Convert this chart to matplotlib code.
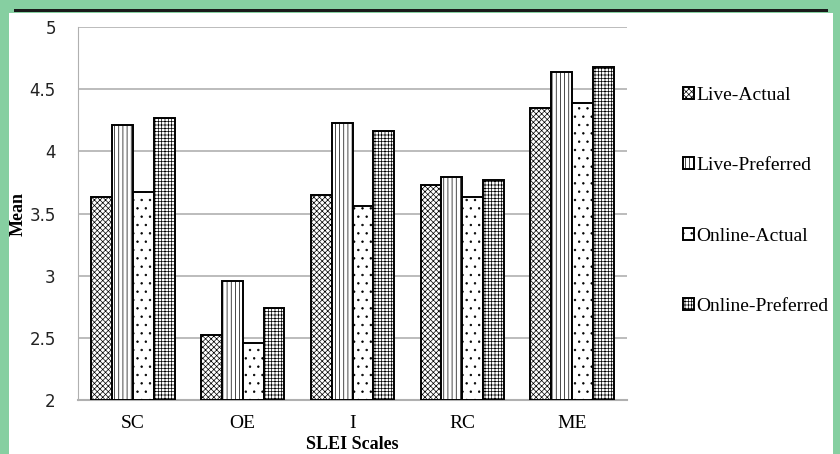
import matplotlib.pyplot as plt
import matplotlib.patches as mpatches
import numpy as np

# SLEI scale means
scales = ['SC', 'OE', 'I', 'RC', 'ME']
live_actual = [3.63, 2.52, 3.65, 3.73, 4.35]
live_preferred = [4.21, 2.96, 4.23, 3.79, 4.64]
online_actual = [3.67, 2.46, 3.56, 3.63, 4.39]
online_preferred = [4.27, 2.74, 4.16, 3.77, 4.68]
series_names = ['Live-Actual', 'Live-Preferred', 'Online-Actual', 'Online-Preferred']
y_ticks = [2, 2.5, 3, 3.5, 4, 4.5, 5]

plt.rcParams['hatch.linewidth'] = 0.5
serif = ['Liberation Serif', 'DejaVu Serif']

fig = plt.figure(figsize=(8.4, 4.54), dpi=100, facecolor='#86cfa1')

# white page and black rule at the top
fig.patches.append(mpatches.Rectangle((9 / 840, 0), 824 / 840, 441 / 454,
                                      transform=fig.transFigure, facecolor='white',
                                      edgecolor='none', zorder=-2))
fig.patches.append(mpatches.Rectangle((14 / 840, 442 / 454), 814 / 840, 3 / 454,
                                      transform=fig.transFigure, facecolor='#1a1a1a',
                                      edgecolor='none', zorder=-1))

ax = fig.add_axes([78 / 840, 54 / 454, 549 / 840, 373 / 454])
ax.set_zorder(2)
ax.set_facecolor('none')

x = np.arange(len(scales))
w = 0.19
hatches = ['xxxxxx', '||||', '..', '+++++']
datasets = [live_actual, live_preferred, online_actual, online_preferred]
handles = []
for i, (vals, name, h) in enumerate(zip(datasets, series_names, hatches)):
    b = ax.bar(x + (i - 1.5) * w, [v - 2 for v in vals], w, bottom=2,
               facecolor='white', edgecolor='black', linewidth=1.4,
               hatch=h, label=name, zorder=3)
    handles.append(b)

ax.set_ylim(2, 5)
ax.set_xlim(-0.5, 4.5)
ax.set_yticks(y_ticks)
ax.set_yticklabels([f'{t:g}' for t in y_ticks], fontsize=12, color='#222222')
ax.set_xticks(x)
ax.set_xticklabels(scales, fontsize=14, family=serif)
ax.tick_params(length=0, pad=11)
ax.tick_params(axis='y', pad=16)
ax.yaxis.grid(True, color='#b0b0b0', linewidth=1.2, zorder=0)
ax.set_axisbelow(True)
for s in ['top', 'right']:
    ax.spines[s].set_visible(False)
ax.spines['left'].set_color('#b0b0b0')
ax.spines['bottom'].set_color('#b0b0b0')
ax.spines['bottom'].set_linewidth(1.5)

ax.set_ylabel('Mean', fontsize=13, fontweight='bold', family=serif, labelpad=2)
ax.set_xlabel('SLEI Scales', fontsize=13, fontweight='bold', family=serif, labelpad=3)

leg = fig.legend(handles=handles, labels=series_names, loc='upper left',
                 bbox_to_anchor=(665 / 840, 385 / 454), frameon=False,
                 prop={'family': serif, 'size': 14}, handlelength=0.6,
                 handleheight=0.6, handletextpad=0.1, labelspacing=2.75)
leg.set_zorder(3)

fig.savefig('out.png', dpi=100, facecolor=fig.get_facecolor())
